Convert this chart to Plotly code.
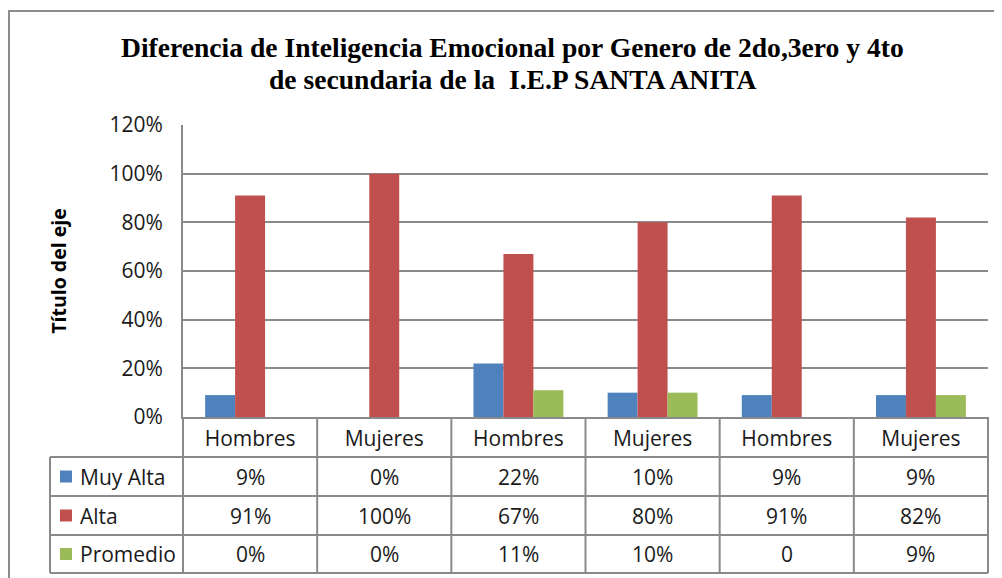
import plotly.graph_objects as go

# ---- data ----
categories = ["Hombres", "Mujeres", "Hombres", "Mujeres", "Hombres", "Mujeres"]
series_names = ["Muy Alta", "Alta", "Promedio"]
muy_alta = [0.09, 0.00, 0.22, 0.10, 0.09, 0.09]
alta = [0.91, 1.00, 0.67, 0.80, 0.91, 0.82]
promedio = [0.00, 0.00, 0.11, 0.10, 0.00, 0.09]
muy_alta_labels = ["9%", "0%", "22%", "10%", "9%", "9%"]
alta_labels = ["91%", "100%", "67%", "80%", "91%", "82%"]
promedio_labels = ["0%", "0%", "11%", "10%", "0", "9%"]
title_lines = ["Diferencia de Inteligencia Emocional por Genero de 2do,3ero y 4to",
               "de secundaria de la  I.E.P SANTA ANITA"]
y_title = "Título del eje"

colors = ["#4F81BD", "#C0504D", "#9BBB59"]
values = [muy_alta, alta, promedio]
labels = [muy_alta_labels, alta_labels, promedio_labels]

W_FIG, H_FIG = 1002, 578
OFF = 8  # page body margin
L, R, T, B = 183 - OFF, 988 - OFF, 125 - OFF, 417 - OFF
PW, PH = R - L, B - T


def px(x):
    return (x - OFF - L) / PW


def py(y):
    return (B - (y - OFF)) / PH


xs = list(range(len(categories)))
fig = go.Figure()
for name, vals, col in zip(series_names, values, colors):
    fig.add_trace(go.Bar(x=xs, y=vals, name=name, marker=dict(color=col, line=dict(width=0)),
                         showlegend=False))

GRID = "#8a8a8a"
FONT = "Open Sans"
TXT = "#1a1a1a"
shapes = []
annotations = []

# chart frame
shapes.append(dict(type="rect", xref="paper", yref="paper", x0=px(9), x1=px(1030),
                   y0=py(620), y1=py(11), line=dict(color="#8c8c8c", width=2), layer="below"))

# table geometry (window pixel rows)
row_lines = [457, 496, 535, 573]
row_centers = [(row_lines[i] + row_lines[i + 1]) / 2 for i in range(3)]
tbl_left = 50
line_style = dict(color=GRID, width=2)
for yl in row_lines:
    shapes.append(dict(type="line", xref="paper", yref="paper", x0=px(tbl_left), x1=1,
                       y0=py(yl), y1=py(yl), line=line_style))
shapes.append(dict(type="line", xref="paper", yref="paper", x0=px(tbl_left), x1=px(tbl_left),
                   y0=py(457), y1=py(573), line=line_style))
for xp in (0, 1):
    shapes.append(dict(type="line", xref="paper", yref="paper", x0=xp, x1=xp,
                       y0=py(417), y1=py(573), line=line_style))
for i in range(1, len(categories)):
    shapes.append(dict(type="line", xref="x", yref="paper", x0=i - 0.5, x1=i - 0.5,
                       y0=py(417), y1=py(573), line=line_style))

# row legend keys, labels and cell values
for r, (name, col) in enumerate(zip(series_names, colors)):
    yc = row_centers[r]
    shapes.append(dict(type="rect", xref="paper", yref="paper", x0=px(60), x1=px(72),
                       y0=py(yc + 6), y1=py(yc - 6), fillcolor=col, line=dict(width=0)))
    annotations.append(dict(xref="paper", yref="paper", x=px(78), y=py(yc), text=name,
                            showarrow=False, xanchor="left", yanchor="middle",
                            font=dict(family=FONT, size=21, color=TXT)))
    for i, t in enumerate(labels[r]):
        annotations.append(dict(xref="x", yref="paper", x=i, y=py(yc), text=t,
                                showarrow=False, xanchor="center", yanchor="middle",
                                font=dict(family=FONT, size=21, color=TXT)))

# title lines
for line, yc in zip(title_lines, [47, 80]):
    annotations.append(dict(xref="paper", yref="paper", x=px(512), y=py(yc), text="<b>" + line + "</b>",
                            showarrow=False, xanchor="center", yanchor="middle",
                            font=dict(family="Liberation Serif", size=27.6, color="#000000")))

fig.update_layout(
    width=W_FIG, height=H_FIG,
    margin=dict(l=L, r=W_FIG - R, t=T, b=H_FIG - B, autoexpand=False),
    paper_bgcolor="white", plot_bgcolor="white",
    barmode="group", bargap=0.33, bargroupgap=0,
    font=dict(family=FONT, size=21, color=TXT),
    shapes=shapes, annotations=annotations,
    xaxis=dict(range=[-0.5, len(categories) - 0.5], tickvals=xs, ticktext=categories,
               showgrid=False, zeroline=False, showline=True, linecolor=GRID, linewidth=2,
               ticks="", ticklabelstandoff=2, tickfont=dict(family=FONT, size=21, color=TXT),
               fixedrange=True),
    yaxis=dict(range=[0, 1.2], dtick=0.2, tickformat=".0%", showgrid=True, gridcolor=GRID,
               gridwidth=2, zeroline=False, showline=True, linecolor=GRID, linewidth=2,
               ticks="", ticklabelstandoff=14, tickfont=dict(family=FONT, size=21, color=TXT),
               title=dict(text="<b>" + y_title + "</b>", standoff=38,
                          font=dict(family=FONT, size=19.5, color="#000000"))),
)

fig.write_html("out.html")
